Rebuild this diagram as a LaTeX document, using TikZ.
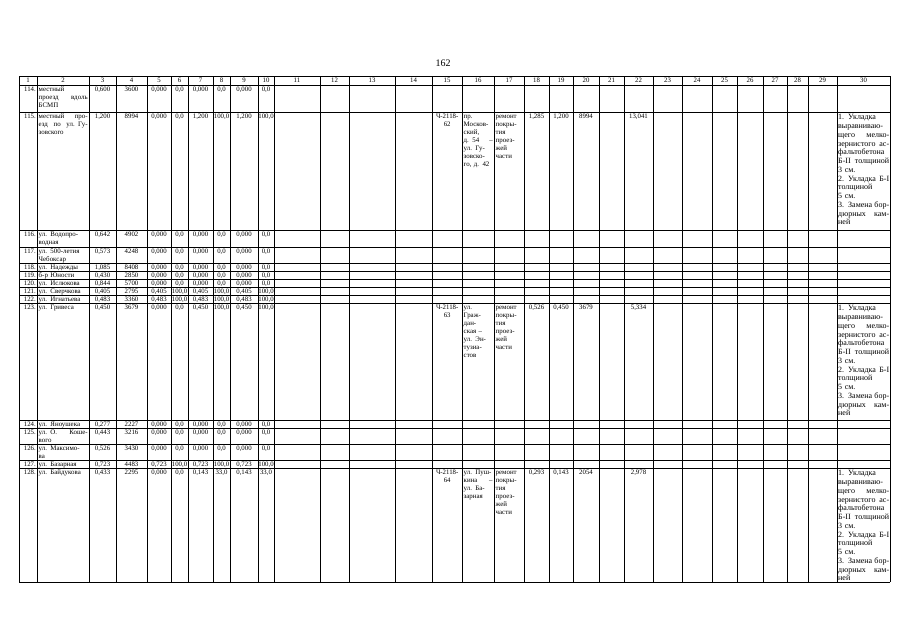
\documentclass[tikz,border=0pt]{standalone}
\usepackage{fontspec}
\setmainfont{Liberation Serif}
\def\CX{{19,37,89,116,147,171,188,213,230,258,274,320,349,395,432,462,494,524,549,573,599,624,653,682,712,737,763,787,808,837,890}}
\def\tw{40}
\newcommand\jline[1]{\leavevmode\hbox to \tw pt{\spaceskip=0.25em plus 1fil\relax #1}}
\newcommand\cellnum[3]{%
  \pgfmathsetmacro\xl{\CX[#1-1]}%
  \pgfmathsetmacro\xr{\CX[#1]}%
  \node[tn] (v#1-#2) at ({(\xl+\xr)/2},{#2+6.5}) {#3};}
\newcommand\celltxt[4]{%
  \pgfmathsetmacro\xl{\CX[#1-1]}%
  \pgfmathsetmacro\xr{\CX[#1]}%
  \pgfmathsetmacro\tw{\xr-\xl-3}%
  \node[#3, text width=\tw pt, anchor=north west] (t#1-#2) at ({\xl+1.5},{#2+1.5}) {\rule{0pt}{5pt}#4};}
\newcommand\celltxtw[4]{%
  \pgfmathsetmacro\xl{\CX[#1-1]}%
  \pgfmathsetmacro\xr{\CX[#1]}%
  \pgfmathsetmacro\tw{\xr-\xl-2}%
  \node[#3, text width=\tw pt, anchor=north west] (t#1-#2) at ({\xl+1},{#2+1.5}) {\rule{0pt}{5pt}#4};}
\newcommand\rowvals[9]{%
  \cellnum{3}{#1}{#2}\cellnum{4}{#1}{#3}\cellnum{5}{#1}{#4}\cellnum{6}{#1}{#5}%
  \cellnum{7}{#1}{#6}\cellnum{8}{#1}{#7}\cellnum{9}{#1}{#8}\cellnum{10}{#1}{#9}}
\newcommand\rowhead[3]{%
  \node[tn, anchor=base east] (n#1) at (36,{#1+6.5}) {#2};
  \celltxt{2}{#1}{tl}{#3}}
\newcommand\remont{ремонт\\ покры-\\ тия\\ проез-\\ жей\\ части}
\newcommand\works{\jline{1. Укладка}\\ выравниваю-\\ \jline{щего мелко-}\\ \jline{зернистого ас-}\\ фальтобетона\\ \jline{Б-II толщиной}\\ 3 см.\\ \jline{2. Укладка Б-I}\\ толщиной\\ 5 см.\\ \jline{3. Замена бор-}\\ \jline{дюрных кам-}\\ ней}
\begin{document}
\begin{tikzpicture}[x=1pt,y=-1pt,
  gridline/.style={line width=0.8pt, black},
  tn/.style={font=\fontsize{6.8}{8}\selectfont, inner sep=0pt, anchor=base},
  tl/.style={font=\fontsize{6.9}{8}\selectfont, inner sep=0pt, align=left},
  tc/.style={font=\fontsize{6.8}{8}\selectfont, inner sep=0pt, align=center},
  tr/.style={font=\fontsize{8}{8.75}\selectfont, inner sep=0pt, align=left, yshift=-1pt},
  pagenum/.style={font=\fontsize{10}{12}\selectfont, inner sep=0pt, anchor=base}]
\useasboundingbox (0,0) rectangle (905,640);
\fill[white] (0,0) rectangle (905,640);
\node[pagenum] (page) at (443,66) {162};
% grid
\foreach \yy in {76,85,112,230,247,263,271,279,287,295,303,420,428,444,460,468,582}
  \draw[gridline] (19,\yy) -- (890,\yy);
\foreach \xx in {19,37,89,116,147,171,188,213,230,258,274,320,349,395,432,462,494,524,549,573,599,624,653,682,712,737,763,787,808,837,890}
  \draw[gridline] (\xx,76) -- (\xx,582);
% header
\foreach \k in {1,...,30} {\cellnum{\k}{76}{\k}}
% rows
\rowhead{85}{114.}{местный\\ \jline{проезд вдоль}\\ БСМП}
\rowvals{85}{0,600}{3600}{0,000}{0,0}{0,000}{0,0}{0,000}{0,0}
\rowhead{112}{115.}{\jline{местный про-}\\ \jline{езд по ул. Гу-}\\ зовского}
\rowvals{112}{1,200}{8994}{0,000}{0,0}{1,200}{100,0}{1,200}{100,0}
\celltxt{15}{112}{tc}{Ч-2118-\\ 62}
\celltxt{16}{112}{tl}{пр.\\ Москов-\\ ский,\\ \jline{д. 54 –}\\ \jline{ул. Гу-}\\ зовско-\\ го, д. 42}
\celltxt{17}{112}{tl}{\remont}
\cellnum{18}{112}{1,285}\cellnum{19}{112}{1,200}\cellnum{20}{112}{8994}\cellnum{22}{112}{13,041}
\celltxtw{30}{112}{tr}{\works}
\rowhead{230}{116.}{\jline{ул. Водопро-}\\ водная}
\rowvals{230}{0,642}{4902}{0,000}{0,0}{0,000}{0,0}{0,000}{0,0}
\rowhead{247}{117.}{\jline{ул. 500-летия}\\ Чебоксар}
\rowvals{247}{0,573}{4248}{0,000}{0,0}{0,000}{0,0}{0,000}{0,0}
\rowhead{263}{118.}{ул. Надежды}
\rowvals{263}{1,085}{8408}{0,000}{0,0}{0,000}{0,0}{0,000}{0,0}
\rowhead{271}{119.}{б-р Юности}
\rowvals{271}{0,430}{2850}{0,000}{0,0}{0,000}{0,0}{0,000}{0,0}
\rowhead{279}{120.}{ул. Ислюкова}
\rowvals{279}{0,844}{5700}{0,000}{0,0}{0,000}{0,0}{0,000}{0,0}
\rowhead{287}{121.}{ул. Сверчкова}
\rowvals{287}{0,405}{2795}{0,405}{100,0}{0,405}{100,0}{0,405}{100,0}
\rowhead{295}{122.}{ул. Игнатьева}
\rowvals{295}{0,483}{3360}{0,483}{100,0}{0,483}{100,0}{0,483}{100,0}
\rowhead{303}{123.}{ул. Гривеса}
\rowvals{303}{0,450}{3679}{0,000}{0,0}{0,450}{100,0}{0,450}{100,0}
\celltxt{15}{303}{tc}{Ч-2118-\\ 63}
\celltxt{16}{303}{tl}{ул.\\ Граж-\\ дан-\\ ская –\\ \jline{ул. Эн-}\\ тузиа-\\ стов}
\celltxt{17}{303}{tl}{\remont}
\cellnum{18}{303}{0,526}\cellnum{19}{303}{0,450}\cellnum{20}{303}{3679}\cellnum{22}{303}{5,334}
\celltxtw{30}{303}{tr}{\works}
\rowhead{420}{124.}{ул. Яноушека}
\rowvals{420}{0,277}{2227}{0,000}{0,0}{0,000}{0,0}{0,000}{0,0}
\rowhead{428}{125.}{\jline{ул. О. Коше-}\\ вого}
\rowvals{428}{0,443}{3216}{0,000}{0,0}{0,000}{0,0}{0,000}{0,0}
\rowhead{444}{126.}{\jline{ул. Максимо-}\\ ва}
\rowvals{444}{0,526}{3430}{0,000}{0,0}{0,000}{0,0}{0,000}{0,0}
\rowhead{460}{127.}{ул. Базарная}
\rowvals{460}{0,723}{4483}{0,723}{100,0}{0,723}{100,0}{0,723}{100,0}
\rowhead{468}{128.}{ул. Байдукова}
\rowvals{468}{0,433}{2295}{0,000}{0,0}{0,143}{33,0}{0,143}{33,0}
\celltxt{15}{468}{tc}{Ч-2118-\\ 64}
\celltxt{16}{468}{tl}{\jline{ул. Пуш-}\\ \jline{кина –}\\ \jline{ул. Ба-}\\ зарная}
\celltxt{17}{468}{tl}{\remont}
\cellnum{18}{468}{0,293}\cellnum{19}{468}{0,143}\cellnum{20}{468}{2054}\cellnum{22}{468}{2,978}
\celltxtw{30}{468}{tr}{\works}
\end{tikzpicture}
\end{document}
